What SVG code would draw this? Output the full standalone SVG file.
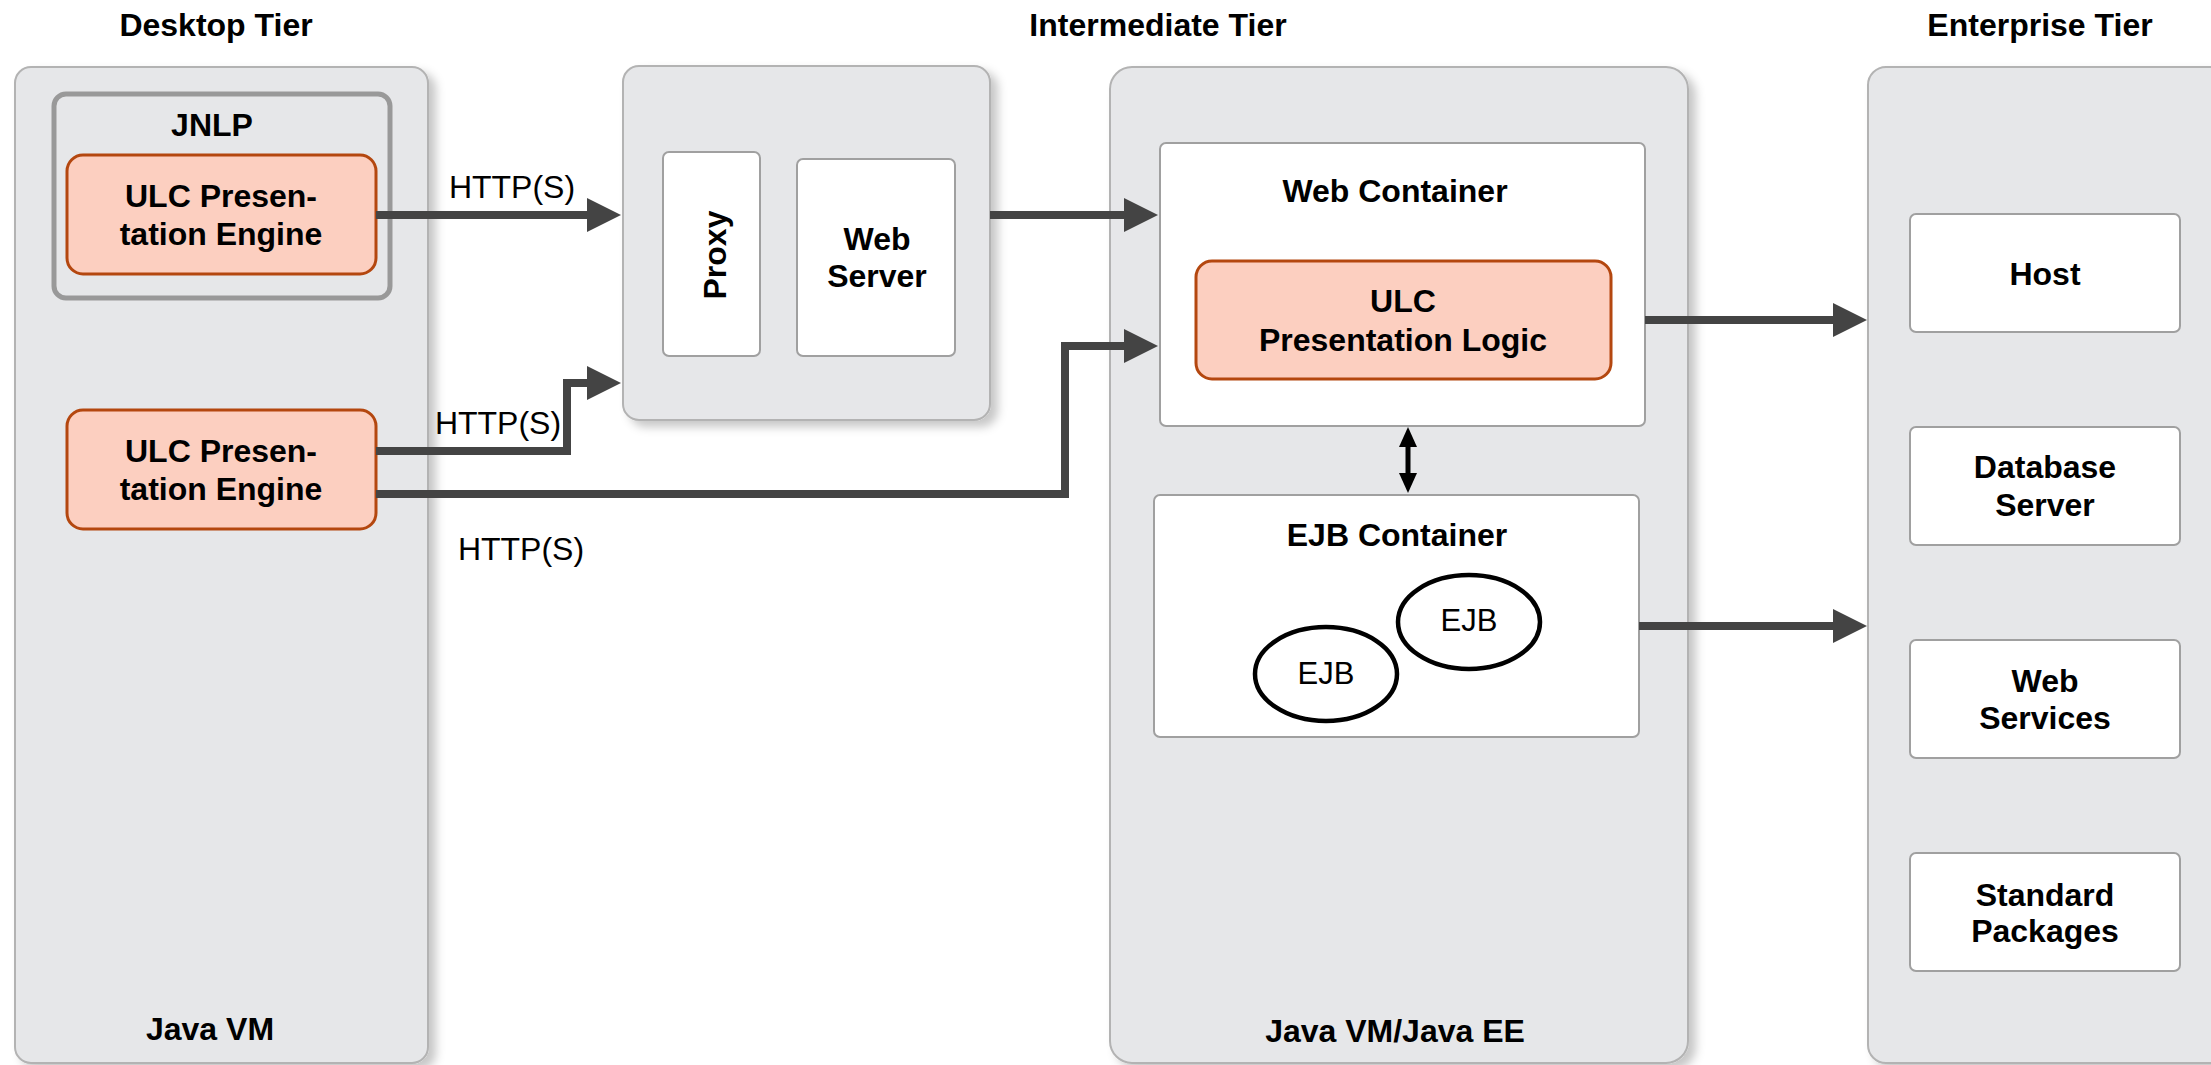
<svg xmlns="http://www.w3.org/2000/svg" width="2211" height="1065" viewBox="0 0 2211 1065">
<defs>
<filter id="sh" x="-10%" y="-10%" width="130%" height="130%">
<feDropShadow dx="7" dy="6" stdDeviation="5" flood-color="#000" flood-opacity="0.22"/>
</filter>
<style>
.panel{fill:#E6E7E9;stroke:#B3B3B3;stroke-width:2}
.box{fill:#fff;stroke:#A0A0A0;stroke-width:2}
.ulc{fill:#FCCFC0;stroke:#B4470F;stroke-width:3}
.t{font-family:"Liberation Sans",Arial,sans-serif;font-size:32px;fill:#000;text-anchor:middle}
.b{font-weight:bold}
.w{stroke:#444;stroke-width:8;fill:none}
.h{fill:#444}
.ejb{fill:#fff;stroke:#000;stroke-width:4.5}
</style>
</defs>
<rect width="2211" height="1065" fill="#fff"/>

<text class="t b" x="216" y="36">Desktop Tier</text>
<text class="t b" x="1158" y="36">Intermediate Tier</text>
<text class="t b" x="2040" y="36">Enterprise Tier</text>

<g id="desktop-tier">
<rect class="panel" x="15" y="67" width="413" height="996" rx="16" filter="url(#sh)"/>
<text class="t b" x="210" y="1040">Java VM</text>
</g>
<g id="jnlp">
<rect x="54" y="94" width="336" height="204" rx="12" fill="none" stroke="#999" stroke-width="5"/>
<text class="t b" x="212" y="136">JNLP</text>
</g>
<g id="engine1">
<rect class="ulc" x="67" y="155" width="309" height="119" rx="16"/>
<text class="t b" x="221" y="207">ULC Presen-</text>
<text class="t b" x="221" y="245">tation Engine</text>
</g>
<g id="engine2">
<rect class="ulc" x="67" y="410" width="309" height="119" rx="16"/>
<text class="t b" x="221" y="462">ULC Presen-</text>
<text class="t b" x="221" y="500">tation Engine</text>
</g>

<g id="proxy-tier">
<rect class="panel" x="623" y="66" width="367" height="354" rx="16" filter="url(#sh)"/>
</g>
<g id="proxy">
<rect class="box" x="663" y="152" width="97" height="204" rx="6"/>
<text class="t b" transform="translate(726,255) rotate(-90)">Proxy</text>
</g>
<g id="web-server">
<rect class="box" x="797" y="159" width="158" height="197" rx="6"/>
<text class="t b" x="877" y="250">Web</text>
<text class="t b" x="877" y="287">Server</text>
</g>

<g id="intermediate-tier">
<rect class="panel" x="1110" y="67" width="578" height="996" rx="22" filter="url(#sh)"/>
<text class="t b" x="1395" y="1042">Java VM/Java EE</text>
</g>
<g id="web-container">
<rect class="box" x="1160" y="143" width="485" height="283" rx="6"/>
<text class="t b" x="1395" y="202">Web Container</text>
</g>
<g id="ulc-logic">
<rect class="ulc" x="1196" y="261" width="415" height="118" rx="16"/>
<text class="t b" x="1403" y="312">ULC</text>
<text class="t b" x="1403" y="351">Presentation Logic</text>
</g>
<g id="ejb-container">
<rect class="box" x="1154" y="495" width="485" height="242" rx="6"/>
<text class="t b" x="1397" y="546">EJB Container</text>
</g>
<g id="ejb1">
<ellipse class="ejb" cx="1469" cy="622" rx="71" ry="47"/>
<text class="t" x="1469" y="631" style="font-size:31px">EJB</text>
</g>
<g id="ejb2">
<ellipse class="ejb" cx="1326" cy="674" rx="71" ry="47"/>
<text class="t" x="1326" y="684" style="font-size:31px">EJB</text>
</g>

<g id="enterprise-tier">
<rect class="panel" x="1868" y="67" width="400" height="996" rx="18" filter="url(#sh)"/>
</g>
<g id="host">
<rect class="box" x="1910" y="214" width="270" height="118" rx="6"/>
<text class="t b" x="2045" y="285">Host</text>
</g>
<g id="database-server">
<rect class="box" x="1910" y="427" width="270" height="118" rx="6"/>
<text class="t b" x="2045" y="478">Database</text>
<text class="t b" x="2045" y="516">Server</text>
</g>
<g id="web-services">
<rect class="box" x="1910" y="640" width="270" height="118" rx="6"/>
<text class="t b" x="2045" y="692">Web</text>
<text class="t b" x="2045" y="729">Services</text>
</g>
<g id="standard-packages">
<rect class="box" x="1910" y="853" width="270" height="118" rx="6"/>
<text class="t b" x="2045" y="906">Standard</text>
<text class="t b" x="2045" y="942">Packages</text>
</g>

<g id="connectors">
<path class="w" d="M376,215 H590"/>
<polygon class="h" points="621,215 587,198 587,232"/>
<text class="t" x="512" y="198">HTTP(S)</text>

<path class="w" d="M376,451 H567 V383 H590"/>
<polygon class="h" points="621,383 587,366 587,400"/>
<text class="t" x="498" y="434">HTTP(S)</text>

<path class="w" d="M376,494 H1065 V346 H1127"/>
<polygon class="h" points="1158,346 1124,329 1124,363"/>
<text class="t" x="521" y="560">HTTP(S)</text>

<path class="w" d="M990,215 H1127"/>
<polygon class="h" points="1158,215 1124,198 1124,232"/>

<path class="w" d="M1645,320 H1836"/>
<polygon class="h" points="1867,320 1833,303 1833,337"/>

<path class="w" d="M1639,626 H1836"/>
<polygon class="h" points="1867,626 1833,609 1833,643"/>

<path d="M1408,444 V476" stroke="#000" stroke-width="5"/>
<polygon points="1408,427 1399,447 1417,447" fill="#000"/>
<polygon points="1408,493 1399,473 1417,473" fill="#000"/>
</g>
</svg>
